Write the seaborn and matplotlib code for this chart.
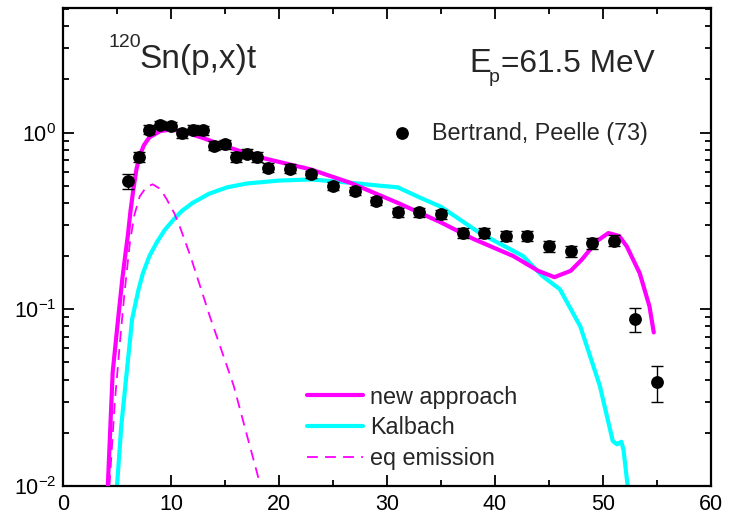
import numpy as np
import pandas as pd
import matplotlib
matplotlib.use("Agg")
import matplotlib.pyplot as plt
import matplotlib.ticker as mticker
import seaborn as sns

# ---------------- data ----------------
exp_x = [6, 7, 8, 9, 10, 11, 12, 13, 14, 15, 16, 17, 18, 19, 21, 23, 25, 27, 29, 31,
         33, 35, 37, 39, 41, 43, 45, 47, 49, 51, 53, 55]
exp_y = [0.53, 0.73, 1.04, 1.11, 1.095, 0.99, 1.04, 1.03, 0.845, 0.86, 0.73, 0.76, 0.73,
         0.634, 0.626, 0.58, 0.50, 0.47, 0.41, 0.353, 0.355, 0.345, 0.27, 0.27, 0.26, 0.26,
         0.227, 0.213, 0.236, 0.245, 0.0877, 0.039]
exp_err = [0.05, 0.05, 0.06, 0.06, 0.06, 0.06, 0.06, 0.06, 0.05, 0.05, 0.045, 0.045, 0.045,
           0.035, 0.035, 0.03, 0.025, 0.025, 0.022, 0.02, 0.02, 0.02, 0.018, 0.018, 0.017,
           0.017, 0.016, 0.016, 0.016, 0.017, 0.0135, 0.009]

new_x = [4.15, 4.6, 5.1, 5.5, 5.8, 6.0, 6.25, 6.5, 6.8, 7.1, 7.5, 8.0, 9.0, 10.0, 11.0,
         13.0, 15.2, 18.0, 21.0, 22.9, 26.6, 31.0, 35.0, 38.0, 41.7, 44.0, 45.5, 47.0, 48.0,
         49.5, 50.5, 51.5, 52.2, 53.4, 54.3, 54.7]
new_y = [0.01, 0.044, 0.088, 0.15, 0.21, 0.26, 0.36, 0.47, 0.62, 0.74, 0.85, 0.94, 1.02,
         1.04, 1.02, 0.93, 0.83, 0.73, 0.66, 0.62, 0.52, 0.40, 0.31, 0.25, 0.20, 0.165,
         0.152, 0.165, 0.19, 0.245, 0.27, 0.26, 0.227, 0.16, 0.104, 0.074]

kal_x = [5.0, 5.4, 5.9, 6.4, 7.0, 7.4, 8.0, 8.7, 9.4, 10.2, 11.0, 12.0, 13.5, 15.2, 17.0,
         20.0, 23.0, 26.6, 29.4, 31.0, 33.0, 35.0, 38.6, 42.6, 44.4, 46.0, 47.9, 49.7, 50.9,
         51.3, 51.7, 51.9, 52.3]
kal_y = [0.01, 0.022, 0.044, 0.088, 0.13, 0.16, 0.20, 0.24, 0.28, 0.32, 0.36, 0.40, 0.45,
         0.49, 0.515, 0.535, 0.543, 0.52, 0.50, 0.49, 0.43, 0.38, 0.27, 0.20, 0.154, 0.13,
         0.080, 0.037, 0.018, 0.0172, 0.0178, 0.016, 0.0098]

eq_x = [4.3, 4.8, 5.3, 5.7, 6.2, 6.6, 7.1, 7.7, 8.3, 9.0, 9.6, 10.3, 10.8, 11.8, 13.6,
        15.8, 18.2]
eq_y = [0.01, 0.03, 0.068, 0.125, 0.24, 0.34, 0.435, 0.49, 0.51, 0.48, 0.42, 0.35, 0.295,
        0.20, 0.091, 0.037, 0.0105]

x_ticks = [0, 10, 20, 30, 40, 50, 60]
y_ticks = [0.01, 0.1, 1.0]

# ---------------- style ----------------
sns.set_style("ticks")
plt.rcParams["font.family"] = ["Liberation Sans", "DejaVu Sans"]
plt.rcParams["mathtext.fontset"] = "custom"
plt.rcParams["mathtext.rm"] = "Liberation Sans"
plt.rcParams["mathtext.it"] = "Liberation Sans"
plt.rcParams["mathtext.default"] = "regular"

MAGENTA = "#ff00ff"
CYAN = "#00ffff"

fig = plt.figure(figsize=(7.3, 5.2), dpi=100)
L, R, T, B = 63, 711, 8, 486
W, H = 730, 520
ax = fig.add_axes([L / W, 1 - B / H, (R - L) / W, (B - T) / H])

df_new = pd.DataFrame({"x": new_x, "y": new_y})
df_kal = pd.DataFrame({"x": kal_x, "y": kal_y})
df_eq = pd.DataFrame({"x": eq_x, "y": eq_y})
df_exp = pd.DataFrame({"x": exp_x, "y": exp_y, "e": exp_err})

sns.lineplot(data=df_new, x="x", y="y", ax=ax, color=MAGENTA, lw=3, sort=False,
             estimator=None, label="new approach", zorder=3)
sns.lineplot(data=df_kal, x="x", y="y", ax=ax, color=CYAN, lw=3, sort=False,
             estimator=None, label="Kalbach", zorder=2)
sns.lineplot(data=df_eq, x="x", y="y", ax=ax, color=MAGENTA, lw=1.3, sort=False,
             estimator=None, label="eq emission", zorder=2)
ax.lines[-1].set_dashes([6, 4])

ax.errorbar(df_exp["x"], df_exp["y"], yerr=df_exp["e"], fmt="none", ecolor="black",
            elinewidth=1.0, capsize=4, capthick=1.0, zorder=4)
sns.scatterplot(data=df_exp, x="x", y="y", ax=ax, color="black", s=85, edgecolor="black",
                linewidth=0, zorder=5, label="Bertrand, Peelle (73)")

ax.set_yscale("log")
ax.set_xlim(0, 60)
ax.set_ylim(0.01, 5.07)
ax.set_xticks(x_ticks)
ax.xaxis.set_minor_locator(mticker.MultipleLocator(5))
ax.set_yticks(y_ticks)
ax.yaxis.set_minor_locator(mticker.LogLocator(base=10, subs=np.arange(2, 10)))
ax.yaxis.set_minor_formatter(mticker.NullFormatter())
ax.yaxis.set_major_formatter(mticker.FuncFormatter(
    lambda v, p: r"$10^{%d}$" % int(round(np.log10(v)))))
ax.set_xlabel("")
ax.set_ylabel("")

ax.tick_params(which="both", direction="in", top=True, right=True, width=1.3,
               labelsize=15.5, colors="black")
ax.tick_params(which="major", length=8)
ax.tick_params(which="minor", length=4.5)
ax.tick_params(axis="x", pad=6)
ax.tick_params(axis="y", pad=5)
for s in ax.spines.values():
    s.set_visible(True)
    s.set_linewidth(1.6)
    s.set_color("black")

# ---------------- legends ----------------
handles, labels = ax.get_legend_handles_labels()
hmap = dict(zip(labels, handles))
leg1 = ax.legend([hmap["new approach"], hmap["Kalbach"], hmap["eq emission"]],
                 ["new approach", "Kalbach", "eq emission"],
                 loc="lower left", bbox_to_anchor=((307 - L) / (R - L), (B - 470) / (B - T)),
                 frameon=False, fontsize=16.8, handlelength=2.4, handletextpad=0.3,
                 labelspacing=0.33, borderaxespad=0, borderpad=0)
ax.add_artist(leg1)
ax.legend([hmap["Bertrand, Peelle (73)"]], ["Bertrand, Peelle (73)"],
          loc="center left", bbox_to_anchor=((390 - L) / (R - L), (B - 133) / (B - T)),
          frameon=False, fontsize=16.8, handlelength=1.0, handletextpad=0.8,
          borderaxespad=0, borderpad=0, markerscale=1.0)


def fx(px):
    return (px - L) / (R - L)


def fy(py):
    return (B - py) / (B - T)


ax.text(fx(108), fy(47), "120", transform=ax.transAxes, fontsize=14, va="baseline", ha="left")
ax.text(fx(139), fy(68), "Sn(p,x)t", transform=ax.transAxes, fontsize=24, va="baseline", ha="left")
ax.text(fx(469), fy(72), "E", transform=ax.transAxes, fontsize=23.5, va="baseline", ha="left")
ax.text(fx(489), fy(82), "p", transform=ax.transAxes, fontsize=14, va="baseline", ha="left")
ax.text(fx(501), fy(72), "=61.5 MeV", transform=ax.transAxes, fontsize=22.8, va="baseline", ha="left")

fig.savefig("out.png", dpi=100)
